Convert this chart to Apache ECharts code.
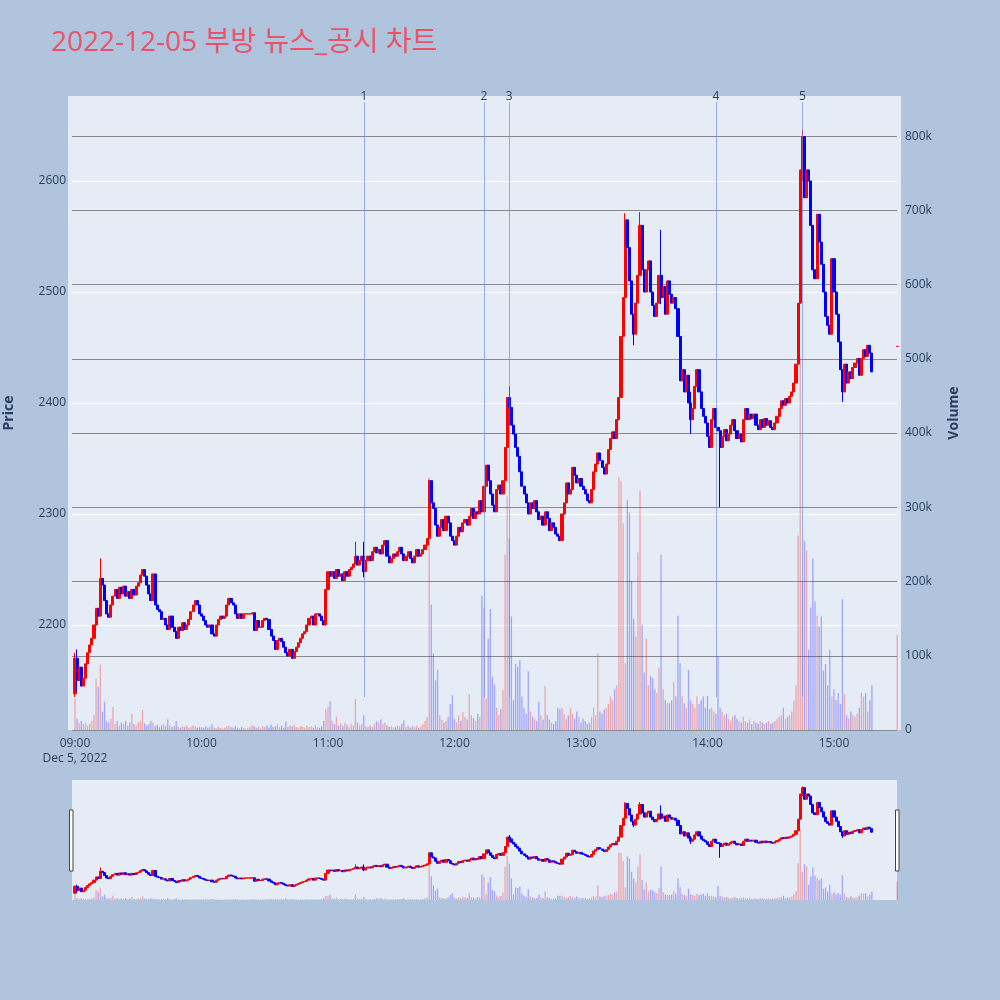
<!DOCTYPE html>
<html>
<head>
<meta charset="utf-8">
<script src="https://cdn.jsdelivr.net/npm/echarts@6/dist/echarts.min.js"></script>
<style>
  html, body { margin: 0; padding: 0; background: #B0C4DE; }
  #chart { width: 1000px; height: 1000px; }
</style>
</head>
<body>
<div id="chart"></div>
<script>
// minute candles, index = minutes after 09:00, open = previous close
var firstOpen = 2138;
var closes = [
  2170, 2150, 2162, 2145, 2152, 2165, 2175, 2182, 2188, 2200,
  2215, 2208, 2242, 2236, 2222, 2210, 2207, 2218, 2226, 2232,
  2224, 2234, 2228, 2235, 2226, 2230, 2224, 2232, 2227, 2235,
  2238, 2245, 2250, 2244, 2236, 2228, 2222, 2246, 2218, 2214,
  2212, 2205, 2206, 2200, 2196, 2208, 2198, 2194, 2188, 2198,
  2195, 2202, 2196, 2200, 2205, 2212, 2218, 2222, 2218, 2210,
  2208, 2204, 2200, 2198, 2200, 2192, 2190, 2200, 2205, 2208,
  2206, 2208, 2218, 2224, 2220, 2218, 2210, 2206, 2210, 2206,
  2210, 2210, 2210, 2210, 2211, 2195, 2204, 2198, 2198, 2204,
  2206, 2205, 2196, 2190, 2186, 2178, 2186, 2188, 2185, 2180,
  2175, 2172, 2178, 2170, 2176, 2180, 2184, 2188, 2192, 2194,
  2200, 2206, 2208, 2200, 2210, 2210, 2208, 2204, 2200, 2232,
  2248, 2244, 2248, 2242, 2250, 2244, 2246, 2240, 2248, 2244,
  2250, 2252, 2255, 2262, 2254, 2258, 2262, 2248, 2258, 2262,
  2258, 2266, 2270, 2265, 2268, 2264, 2272, 2276, 2262, 2256,
  2260, 2264, 2262, 2266, 2270, 2264, 2258, 2262, 2266, 2260,
  2256, 2262, 2268, 2262, 2264, 2268, 2272, 2278, 2330, 2310,
  2305, 2290, 2280, 2288, 2295, 2285, 2298, 2292, 2280, 2276,
  2272, 2280, 2288, 2284, 2292, 2295, 2290, 2298, 2305, 2296,
  2302, 2300, 2312, 2302, 2325, 2344, 2330, 2318, 2308, 2302,
  2322, 2326, 2318, 2330, 2360, 2405, 2396, 2380, 2372, 2360,
  2352, 2338, 2325, 2318, 2310, 2300, 2310, 2305, 2312, 2302,
  2295, 2298, 2290, 2302, 2296, 2285, 2292, 2288, 2282, 2280,
  2276, 2300, 2310, 2328, 2318, 2322, 2342, 2335, 2328, 2332,
  2325, 2322, 2318, 2312, 2310, 2322, 2338, 2345, 2355, 2348,
  2342, 2336, 2345, 2358, 2368, 2374, 2368, 2385, 2405, 2460,
  2495, 2565, 2540, 2510, 2480, 2462, 2490, 2515, 2560, 2520,
  2500, 2520, 2528, 2500, 2488, 2478, 2490, 2515, 2495, 2505,
  2480, 2510, 2498, 2490, 2495, 2485, 2460, 2420, 2430, 2410,
  2425, 2400, 2385, 2395, 2415, 2430, 2410, 2395, 2388, 2382,
  2370, 2360, 2385, 2395, 2378, 2375, 2360, 2370, 2376, 2366,
  2372, 2380, 2385, 2375, 2368, 2372, 2365, 2385, 2395, 2385,
  2390, 2386, 2390, 2380, 2376, 2385, 2378, 2386, 2380, 2384,
  2378, 2376, 2382, 2388, 2395, 2402, 2398, 2404, 2400, 2406,
  2410, 2418, 2435, 2490, 2610, 2640, 2585, 2610, 2600, 2560,
  2520, 2512, 2570, 2545, 2525, 2500, 2478, 2470, 2462, 2530,
  2500, 2480, 2455, 2430, 2410, 2435, 2418, 2428, 2422, 2432,
  2436, 2440, 2425, 2440, 2448, 2442, 2452, 2445, 2428
];
// [minute, high, low] where the wick goes past the body
var wicks = [
  [0, 2175, 2135], [1, 2178, 2140], [12, 2260, 2208], [133, 2275, 2255],
  [137, 2275, 2243], [168, 2331, 2274], [206, 2415, 2380], [261, 2571, 2495],
  [265, 2480, 2452], [268, 2572, 2515], [278, 2556, 2489], [292, 2410, 2372],
  [306, 2378, 2306], [345, 2646, 2600], [364, 2420, 2401]
];
// volume per minute, thousands
var volumesK = [
  42, 15, 9, 12, 8, 10, 6, 8, 12, 20,
  69, 58, 88, 25, 38, 12, 10, 15, 31, 8,
  12, 6, 10, 8, 12, 6, 10, 22, 8, 6,
  10, 12, 27, 9, 6, 8, 12, 10, 5, 7,
  4, 6, 8, 5, 14, 6, 4, 5, 12, 4,
  3, 5, 4, 6, 3, 4, 6, 5, 3, 4,
  4, 3, 5, 3, 4, 8, 3, 2, 4, 3,
  2, 3, 5, 6, 4, 3, 5, 3, 2, 4,
  3, 2, 3, 4, 7, 5, 3, 4, 2, 5,
  4, 6, 3, 7, 4, 5, 8, 4, 6, 3,
  11, 4, 6, 5, 7, 4, 3, 5, 4, 3,
  6, 4, 5, 3, 6, 4, 3, 5, 12, 28,
  31, 39, 12, 8, 18, 6, 9, 5, 10, 7,
  4, 8, 6, 42, 10, 6, 8, 20, 5, 4,
  6, 4, 8, 12, 10, 14, 8, 10, 6, 4,
  5, 3, 4, 6, 5, 8, 13, 4, 6, 3,
  5, 4, 6, 3, 5, 8, 12, 18, 340, 169,
  103, 67, 81, 20, 14, 10, 12, 18, 35, 47,
  15, 10, 20, 12, 24, 18, 14, 48, 20, 16,
  12, 22, 18, 181, 165, 42, 123, 163, 72, 61,
  30, 20, 28, 54, 236, 315, 258, 153, 40, 89,
  85, 94, 45, 30, 22, 79, 25, 18, 15, 12,
  38, 20, 14, 59, 20, 14, 10, 8, 12, 30,
  28, 30, 22, 15, 20, 30, 22, 15, 25, 18,
  10, 15, 12, 8, 10, 18, 30, 20, 103, 25,
  22, 28, 30, 35, 45, 40, 55, 60, 340, 335,
  278, 90, 310, 293, 201, 150, 126, 239, 323, 142,
  77, 123, 60, 73, 70, 55, 50, 84, 236, 55,
  40, 36, 36, 40, 65, 45, 154, 90, 45, 36,
  30, 81, 40, 35, 30, 45, 35, 40, 45, 30,
  46, 28, 30, 25, 22, 99, 30, 25, 20, 22,
  15, 12, 18, 20, 15, 12, 10, 18, 12, 10,
  14, 8, 12, 10, 8, 12, 10, 8, 10, 12,
  8, 10, 12, 15, 18, 20, 30, 15, 18, 20,
  25, 40, 60, 262, 500, 200, 255, 242, 108, 165,
  231, 173, 154, 139, 153, 80, 89, 60, 108, 45,
  55, 40, 50, 35, 176, 48, 20, 15, 25, 20,
  18, 22, 30, 50, 45, 50, 25, 40, 60
];
// closing auction at 15:30
var auctionMinute = 390;
var auctionPrice = 2451;
var auctionVolumeK = 128;

var markerMinutes = [137, 194, 206, 304, 345];
var markerLabels = ['1', '2', '3', '4', '5'];
var markerFrom = 2135;
var markerTo = 2671;

var priceTicks = [2200, 2300, 2400, 2500, 2600];
var volumeTicks = [0, 100000, 200000, 300000, 400000, 500000, 600000, 700000, 800000];
var timeTicks = [0, 60, 120, 180, 240, 300, 360];

var priceMin = 2105.4, priceMax = 2676.6;
var volMax = 854000;
var xMin = -1.42, xMax = 389.9;

var UP = '#FF0000', DOWN = '#0000FF';
var UP_VOL = 'rgba(255,0,0,0.3)', DOWN_VOL = 'rgba(0,0,255,0.3)';
var TEXT = '#2a3f5f';
var FONT = '"Open Sans", "Noto Sans CJK KR", sans-serif';

// build candle + volume rows
var candles = [];
var volumes = [];
for (var i = 0; i < closes.length; i++) {
    var o = i === 0 ? firstOpen : closes[i - 1];
    var c = closes[i];
    var h = Math.max(o, c), l = Math.min(o, c);
    wicks.forEach(function (w) {
        if (w[0] === i) { h = Math.max(h, w[1]); l = Math.min(l, w[2]); }
    });
    candles.push([i, o, c, l, h]);
    volumes.push({ value: [i, volumesK[i] * 1000], itemStyle: { color: c >= o ? UP_VOL : DOWN_VOL } });
}
candles.push([auctionMinute, auctionPrice, auctionPrice, auctionPrice, auctionPrice]);
volumes.push({ value: [auctionMinute, auctionVolumeK * 1000], itemStyle: { color: UP_VOL } });

function pad(n) { return (n < 10 ? '0' : '') + n; }
function timeLabel(v) {
    var t = 9 * 60 + Math.round(v);
    var s = pad(Math.floor(t / 60)) + ':' + pad(t % 60);
    return v === 0 ? s + '\nDec 5, 2022' : s;
}

var candleStyle = {
    color: UP, color0: DOWN, borderColor: UP, borderColor0: DOWN,
    borderColorDoji: UP, borderWidth: 1
};

var markData = markerMinutes.map(function (m, i) {
    return [{ coord: [m, markerFrom], name: markerLabels[i] }, { coord: [m, markerTo] }];
});

var option = {
    backgroundColor: '#B0C4DE',
    animation: false,
    title: {
        text: '2022-12-05 부방 뉴스_공시 차트',
        left: 46, top: 24,
        textStyle: { color: '#EC5168', fontSize: 28, fontWeight: 'normal', fontFamily: FONT }
    },
    graphic: [
        { type: 'rect', z: -10, silent: true, shape: { x: 68, y: 96, width: 833, height: 634 }, style: { fill: '#E5ECF6' } },
        { type: 'rect', z: 100, silent: true, shape: { x: 69.5, y: 810, width: 3.5, height: 61 }, style: { fill: '#fff', stroke: '#444', lineWidth: 1 } },
        { type: 'rect', z: 100, silent: true, shape: { x: 895.5, y: 810, width: 3.5, height: 61 }, style: { fill: '#fff', stroke: '#444', lineWidth: 1 } }
    ],
    grid: [
        { left: 72, right: 103, top: 96, bottom: 270, containLabel: false, outerBoundsMode: 'none' },
        { left: 72, right: 103, top: 780, bottom: 100, containLabel: false, outerBoundsMode: 'none',
          show: true, backgroundColor: '#E5ECF6', borderWidth: 0 }
    ],
    xAxis: [
        {
            type: 'value', gridIndex: 0, min: xMin, max: xMax,
            axisLine: { show: false }, splitLine: { show: false },
            axisTick: { show: false, customValues: timeTicks },
            axisLabel: {
                customValues: timeTicks, formatter: timeLabel, color: TEXT,
                fontSize: 12, fontFamily: FONT, margin: 6, lineHeight: 15
            }
        },
        { type: 'value', gridIndex: 1, min: xMin, max: xMax, show: false }
    ],
    yAxis: [
        {
            type: 'value', gridIndex: 0, position: 'left', min: priceMin, max: priceMax,
            name: 'Price', nameLocation: 'middle', nameGap: 56, nameRotate: 90,
            nameTextStyle: { color: TEXT, fontSize: 14, fontWeight: 'bold', fontFamily: FONT },
            axisLine: { show: false },
            axisTick: { show: false, customValues: priceTicks },
            axisLabel: {
                customValues: priceTicks, color: TEXT, fontSize: 12, fontFamily: FONT, margin: 6,
                formatter: function (v) { return String(v); }
            },
            splitLine: { show: true, lineStyle: { color: '#ffffff', width: 1 } }
        },
        {
            type: 'value', gridIndex: 0, position: 'right', min: 0, max: volMax,
            name: 'Volume', nameLocation: 'middle', nameGap: 50, nameRotate: 90,
            nameTextStyle: { color: TEXT, fontSize: 14, fontWeight: 'bold', fontFamily: FONT },
            axisLine: { show: false },
            axisTick: { show: false, customValues: volumeTicks },
            axisLabel: {
                customValues: volumeTicks, color: TEXT, fontSize: 12, fontFamily: FONT, margin: 8,
                formatter: function (v) { return v === 0 ? '0' : (v / 1000) + 'k'; }
            },
            splitLine: { show: true, lineStyle: { color: '#8a8a8a', width: 1 } }
        },
        { type: 'value', gridIndex: 1, min: priceMin, max: priceMax, show: false },
        { type: 'value', gridIndex: 1, min: 0, max: volMax, show: false }
    ],
    series: [
        {
            name: 'volume', type: 'bar', xAxisIndex: 0, yAxisIndex: 1,
            data: volumes, barWidth: 1.3, z: 1
        },
        {
            name: 'price', type: 'candlestick', xAxisIndex: 0, yAxisIndex: 0,
            data: candles, encode: { x: 0, y: [1, 2, 3, 4] },
            barWidth: 2.6, itemStyle: candleStyle, z: 3,
            markLine: {
                silent: true, symbol: ['none', 'none'], animation: false,
                lineStyle: { color: 'rgba(90,130,230,0.6)', width: 1, type: 'solid' },
                label: { show: true, position: 'end', formatter: '{b}', color: TEXT, fontSize: 12, fontFamily: FONT, distance: 0 },
                data: markData
            }
        },
        {
            name: 'volume-mini', type: 'bar', xAxisIndex: 1, yAxisIndex: 3,
            data: volumes, barWidth: 1.3, z: 1
        },
        {
            name: 'price-mini', type: 'candlestick', xAxisIndex: 1, yAxisIndex: 2,
            data: candles, encode: { x: 0, y: [1, 2, 3, 4] },
            barWidth: 2.6, itemStyle: candleStyle, z: 3
        }
    ]
};

var chart = echarts.init(document.getElementById('chart'));
chart.setOption(option);

window.addEventListener('resize', function () {
    chart.resize();
});
</script>
</body>
</html>
